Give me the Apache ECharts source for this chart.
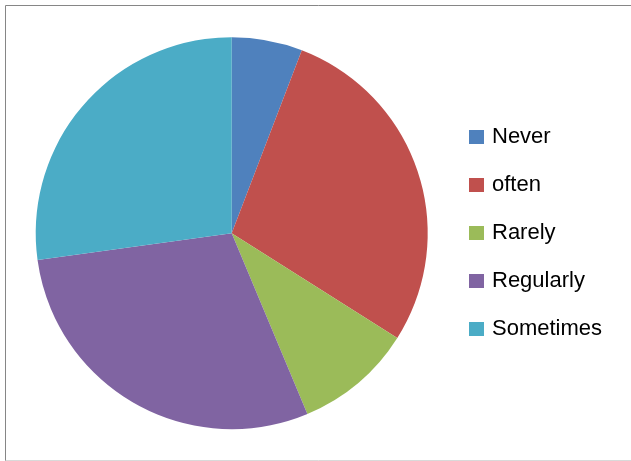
<!DOCTYPE html>
<html>
<head>
<meta charset="utf-8">
<script src="https://cdn.jsdelivr.net/npm/echarts@6/dist/echarts.min.js"></script>
<style>
html,body{margin:0;padding:0;background:#fff;}
#chart{width:631px;height:461px;}
</style>
</head>
<body>
<div id="chart"></div>
<script>
var categories = ['Never', 'often', 'Rarely', 'Regularly', 'Sometimes'];
var values = [6, 29, 10, 30, 28];
var colors = ['#4F81BD', '#C0504D', '#9BBB59', '#8064A2', '#4BACC6'];

var chart = echarts.init(document.getElementById('chart'), null, {renderer: 'canvas'});
var data = categories.map(function (c, i) {
  return {name: c, value: values[i], itemStyle: {color: colors[i]}};
});
chart.setOption({
  animation: false,
  graphic: [
    {type: 'line', shape: {x1: 5.5, y1: 5.5, x2: 631, y2: 5.5}, style: {stroke: '#868686', lineWidth: 1}},
    {type: 'line', shape: {x1: 5.5, y1: 5.5, x2: 5.5, y2: 461}, style: {stroke: '#868686', lineWidth: 1}},
    {type: 'line', shape: {x1: 5.5, y1: 460.5, x2: 631, y2: 460.5}, style: {stroke: '#d9d9d9', lineWidth: 1}}
  ],
  legend: {
    orient: 'vertical',
    left: 464,
    top: 121,
    padding: 5,
    icon: 'rect',
    itemWidth: 15,
    itemHeight: 14,
    itemGap: 26,
    selectedMode: false,
    textStyle: {fontFamily: 'Liberation Sans', fontSize: 22, color: '#000', lineHeight: 22, padding: [0, 0, 0, 3]},
    data: categories
  },
  series: [{
    type: 'pie',
    center: [231.7, 233.2],
    radius: 196,
    startAngle: 90,
    clockwise: true,
    label: {show: false},
    labelLine: {show: false},
    emphasis: {disabled: true},
    itemStyle: {borderWidth: 0},
    data: data
  }]
});
</script>
</body>
</html>
